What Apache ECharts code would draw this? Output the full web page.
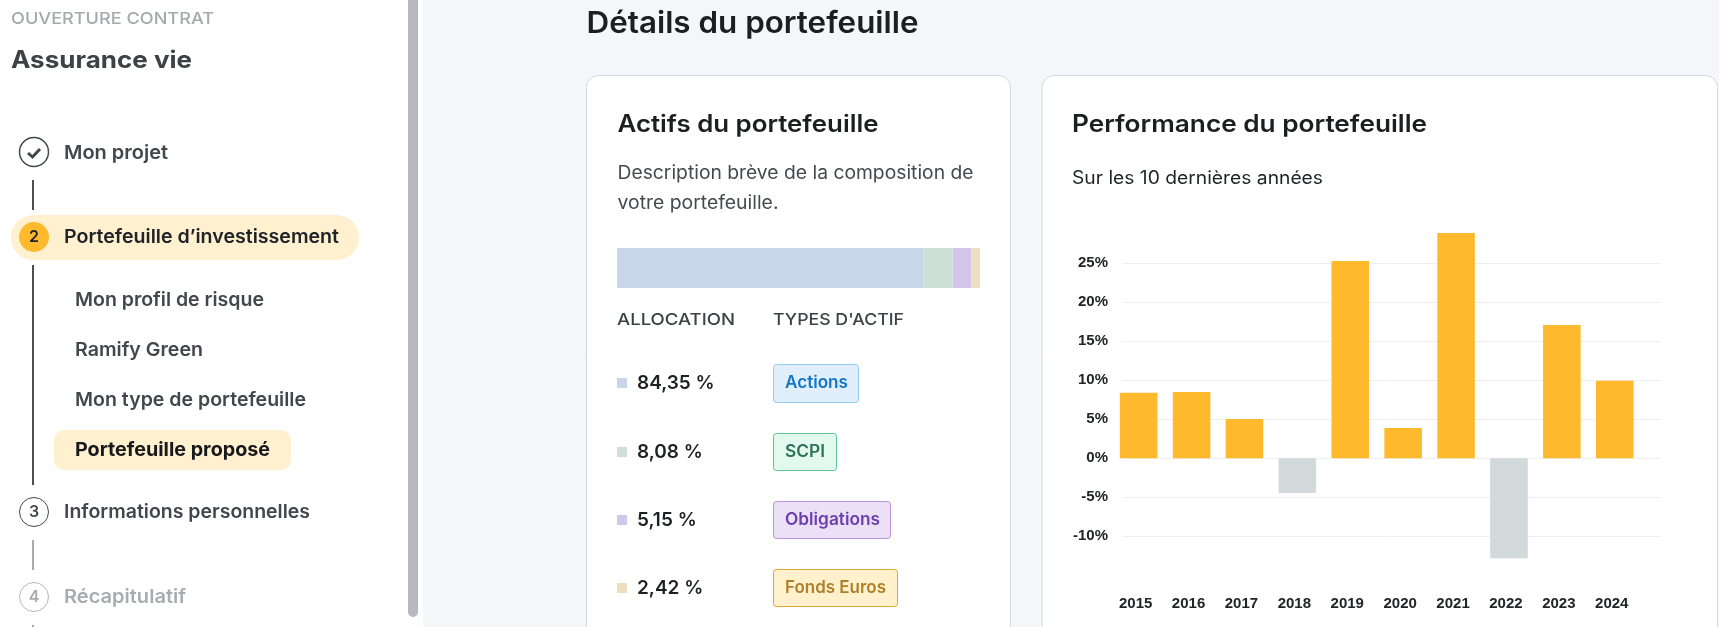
<!DOCTYPE html>
<html lang="fr">
<head>
<meta charset="utf-8">
<title>Détails du portefeuille</title>
<script src="https://cdn.jsdelivr.net/npm/echarts@6/dist/echarts.min.js"></script>
<style>
html, body { margin: 0; padding: 0; background: #f5f6fa; overflow: hidden; }
#container { width: 1719px; height: 627px; }
</style>
</head>
<body>
<div id="container"></div>
<script>
// values
var years = ['2015', '2016', '2017', '2018', '2019', '2020', '2021', '2022', '2023', '2024'];
var performance = [8.4, 8.5, 5.05, -4.45, 25.3, 3.9, 28.9, -12.8, 17.1, 9.95];
var yTicks = [-10, -5, 0, 5, 10, 15, 20, 25];
var assetTypes = ['Actions', 'SCPI', 'Obligations', 'Fonds Euros'];
var allocation = [84.35, 8.08, 5.15, 2.42];

var allocColors = ['#c9d5e8', '#cfe0d7', '#d3c6ea', '#eedfc0'];
var badgeStyles = [
    { fill: '#e0effb', stroke: '#93ccf2', text: '#1377c9', x2: 858.5, top: 364.5, bottom: 402.5, textW: 63 },
    { fill: '#e2f9ee', stroke: '#5cc49b', text: '#2d7159', x2: 836.5, top: 433.5, bottom: 470.5, textW: 40 },
    { fill: '#ebe0f6', stroke: '#bb92e4', text: '#6b3fae', x2: 890.5, top: 501.5, bottom: 538.5, textW: 95 },
    { fill: '#fff1cb', stroke: '#e2a733', text: '#b07f2c', x2: 897.5, top: 569.5, bottom: 606.5, textW: 101 }
];
var rowY = [382, 451, 519, 587];

var UI_FONT = 'Inter, "Noto Sans", sans-serif';
var elements = [];
var measure = document.createElement('canvas').getContext('2d');

function rect(x, y, w, h, fill, stroke, r, z) {
    elements.push({
        type: 'rect', z: z === undefined ? -1 : z, silent: true,
        shape: { x: x, y: y, width: w, height: h, r: r || 0 },
        style: { fill: fill, stroke: stroke || null, lineWidth: stroke ? 1 : 0 }
    });
}
function circle(cx, cy, r, fill, stroke, lineWidth) {
    elements.push({
        type: 'circle', z: 1, silent: true,
        shape: { cx: cx, cy: cy, r: r },
        style: { fill: fill, stroke: stroke, lineWidth: lineWidth || 1 }
    });
}
// width, when given, stretches the text to the width seen in the reference
function text(str, x, y, font, fill, width) {
    var full = font + ' ' + UI_FONT;
    var scale = 1;
    if (width) {
        measure.font = full;
        scale = width / measure.measureText(str).width;
    }
    elements.push({
        type: 'text', z: 3, silent: true, x: x, y: y + 2.2, scaleX: scale,
        style: { text: str, font: full, fill: fill, align: 'left', verticalAlign: 'middle' }
    });
}
function stepNumber(str, cx, cy, fill) {
    elements.push({
        type: 'text', z: 3, silent: true, x: cx, y: cy,
        style: { text: str, font: '600 16px ' + UI_FONT, fill: fill, align: 'center', verticalAlign: 'middle' }
    });
}

// sidebar
rect(0, 0, 423, 627, '#ffffff', null, 0, -2);
rect(408, -10, 10, 627, '#b8b8be', null, 5);
text('OUVERTURE CONTRAT', 11, 17, '500 16.5px', '#a6a9ad', 203);
text('Assurance vie', 11, 59, '700 24px', '#3d4246', 181);

circle(34, 152, 14.5, 'none', '#43474c', 1.5);
elements.push({
    type: 'polyline', z: 3, silent: true,
    shape: { points: [[28, 153], [32.5, 157], [40, 149]] },
    style: { stroke: '#43474c', lineWidth: 3, fill: null }
});
text('Mon projet', 64, 151, '600 19px', '#42474d', 104);
rect(32, 180, 2, 30, '#4b4f55', null, 0, 1);

rect(11, 215, 348, 45, '#fff1cf', null, 22);
circle(34, 237, 15, '#ffb92d', 'none');
stepNumber('2', 34, 237, '#202428');
text('Portefeuille d\u2019investissement', 64, 235, '600 19px', '#202428', 275);
rect(32, 265, 2, 220, '#4b4f55', null, 0, 1);

text('Mon profil de risque', 75, 298, '600 19px', '#42474d', 189);
text('Ramify Green', 75, 348, '600 19px', '#42474d', 128);
text('Mon type de portefeuille', 75, 398, '600 19px', '#42474d', 231);
rect(54, 430, 237, 40, '#fff1cf', null, 10);
text('Portefeuille propos\u00e9', 75, 448, '700 19px', '#17191c', 195);

circle(34, 512, 14.5, '#ffffff', '#43474c', 1);
stepNumber('3', 34, 512, '#42474d');
text('Informations personnelles', 64, 510, '600 19px', '#42474d', 246);
rect(32, 540, 2, 30, '#a7aaae', null, 0, 1);
circle(34, 597, 14.5, '#ffffff', '#b6b9bc', 1);
stepNumber('4', 34, 597, '#a8abb0');
text('R\u00e9capitulatif', 64, 595, '600 19px', '#a8abb0', 122);
rect(32, 625, 2, 4, '#a7aaae', null, 0, 1);

// main column
text('D\u00e9tails du portefeuille', 586.5, 21.5, '600 30px', '#1c1e21', 332);

rect(586.5, 75.5, 424, 600, '#ffffff', '#d4d9de', 12);
text('Actifs du portefeuille', 617.5, 123, '600 24px', '#1c1e21', 261);
text('Description br\u00e8ve de la composition de', 617.5, 171, '400 18.5px', '#45494e', 356);
text('votre portefeuille.', 617.5, 201, '400 18.5px', '#45494e', 161);
text('ALLOCATION', 617, 318, '500 16.5px', '#3d4246', 118);
text("TYPES D'ACTIF", 773, 318, '500 16.5px', '#3d4246', 131);

allocation.forEach(function (v, i) {
    var y = rowY[i];
    rect(617, y - 4, 10, 10, allocColors[i], null, 0, 1);
    text(v.toFixed(2).replace('.', ',') + ' %', 637, y - 1.2, '600 19px', '#1e2022');
    var b = badgeStyles[i];
    rect(773.5, b.top, b.x2 - 773.5, b.bottom - b.top, b.fill, b.stroke, 3, 1);
    text(assetTypes[i], 785, y - 1.2, '600 17px', b.text, b.textW);
});

rect(1042, 75.5, 675.5, 600, '#ffffff', '#d4d9de', 12);
text('Performance du portefeuille', 1072, 123, '600 24px', '#1c1e21', 355);
text('Sur les 10 derni\u00e8res ann\u00e9es', 1072, 176, '400 18px', '#1f2225', 251);

var myChart = echarts.init(document.getElementById('container'));

var option = {
    animation: false,
    backgroundColor: '#f5f6fa',
    graphic: { elements: elements },
    grid: [
        // gridlines and y labels
        { left: 1122, top: 224.3, width: 539, height: 351 },
        // bars sit on their own slightly shifted band
        { left: 1112.2, top: 224.3, width: 529, height: 351 },
        // allocation strip
        { left: 617, top: 248, width: 363, height: 40 }
    ],
    xAxis: [
        { gridIndex: 0, type: 'category', data: years, show: false },
        {
            gridIndex: 1,
            type: 'category',
            data: years,
            position: 'bottom',
            axisLine: { show: false },
            axisTick: { show: false },
            axisLabel: {
                margin: 21,
                interval: 0,
                padding: [0, 6, 0, 0],
                color: '#222427',
                fontFamily: '"Liberation Sans", Arial, sans-serif',
                fontWeight: 'bold',
                fontSize: 15
            }
        },
        { gridIndex: 2, type: 'value', min: 0, max: 100, show: false }
    ],
    yAxis: [
        {
            gridIndex: 0,
            type: 'value',
            min: -15,
            max: 30,
            interval: 5,
            axisLine: { show: false },
            axisTick: { show: false },
            splitLine: { showMinLine: false, showMaxLine: false, lineStyle: { color: '#eeeff1', width: 1 } },
            axisLabel: {
                margin: 14,
                color: '#222427',
                fontFamily: '"Liberation Sans", Arial, sans-serif',
                fontWeight: 'bold',
                fontSize: 15,
                formatter: function (v) { return yTicks.indexOf(v) >= 0 ? v + '%' : ''; }
            }
        },
        { gridIndex: 1, type: 'value', min: -15, max: 30, interval: 5, show: false },
        { gridIndex: 2, type: 'category', data: ['allocation'], show: false }
    ],
    series: [
        {
            type: 'bar',
            xAxisIndex: 1,
            yAxisIndex: 1,
            barCategoryGap: '29%',
            z: 4,
            data: performance,
            itemStyle: {
                color: function (p) { return p.value < 0 ? '#d1d9da' : '#ffb92d'; }
            }
        }
    ].concat(allocation.map(function (v, i) {
        return {
            type: 'bar',
            name: assetTypes[i],
            xAxisIndex: 2,
            yAxisIndex: 2,
            stack: 'allocation',
            barWidth: '100%',
            z: 4,
            data: [v],
            itemStyle: { color: allocColors[i] }
        };
    }))
};

myChart.setOption(option);
</script>
</body>
</html>
